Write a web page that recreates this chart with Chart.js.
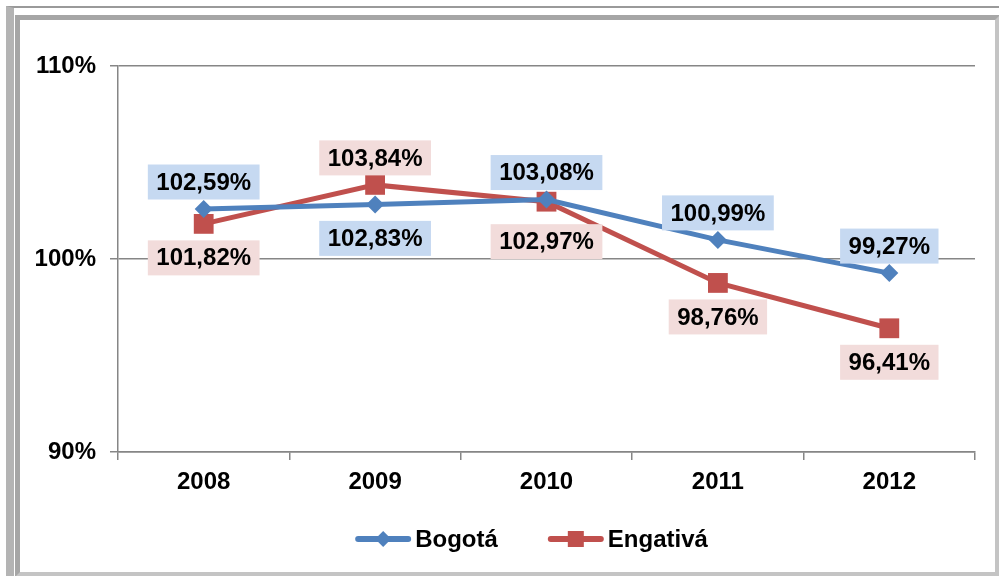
<!DOCTYPE html>
<html>
<head>
<meta charset="utf-8">
<script src="https://cdn.jsdelivr.net/npm/chart.js@4"></script>
<style>
  html, body { margin: 0; padding: 0; background: #fff; }
  #wrap { position: relative; width: 999px; height: 576px; overflow: hidden; }
  .outer { position: absolute; left: 6px; top: 6px; width: 1100px; height: 568px;
           border-top: 2px solid #9a9a9a; border-left: 8px solid #b4b4b4; border-bottom: 1px solid #d0d0d0; }
  .inner { position: absolute; left: 15px; top: 15px; width: 975px; height: 552px;
           border: 5px solid #a6a6a6; border-right-color: #c4c4c4; border-bottom-color: #c4c4c4; }
  canvas { position: absolute; left: 0; top: 0; }
</style>
</head>
<body>
<div id="wrap">
  <div class="outer"></div>
  <div class="inner"></div>
  <canvas id="chart" width="999" height="576"></canvas>
</div>
<script>
// data
const years = ['2008', '2009', '2010', '2011', '2012'];
const bogota = [102.59, 102.83, 103.08, 100.99, 99.27];
const engativa = [101.82, 103.84, 102.97, 98.76, 96.41];
const yTicks = [90, 100, 110];

const blue = '#4f81bd';
const red = '#c0504d';
const blueBox = '#c6d9f1';
const redBox = '#f2dcdb';
const font = "'Liberation Sans', Arial, sans-serif";

const fmt = v => v.toFixed(2).replace('.', ',') + '%';

// value labels in coloured boxes: higher series above its point, lower one below
const boxLabels = {
  id: 'boxLabels',
  afterDatasetsDraw(chart) {
    const ctx = chart.ctx;
    const boxes = [blueBox, redBox];
    ctx.save();
    ctx.font = 'bold 24px ' + font;
    ctx.textAlign = 'center';
    ctx.textBaseline = 'middle';
    chart.data.datasets.forEach((ds, i) => {
      const other = chart.data.datasets[1 - i].data;
      chart.getDatasetMeta(i).data.forEach((pt, j) => {
        const above = ds.data[j] >= other[j];
        // push the lower label further down when both points nearly touch
        const close = Math.abs(ds.data[j] - other[j]) < 0.5;
        const cy = pt.y + (above ? -27 : (close ? 40 : 34));
        const text = fmt(ds.data[j]);
        const w = ctx.measureText(text).width + 17;
        const h = 35;
        ctx.fillStyle = boxes[i];
        ctx.fillRect(pt.x - w / 2, cy - h / 2, w, h);
        ctx.fillStyle = '#000';
        ctx.fillText(text, pt.x, cy + 1);
      });
    });
    ctx.restore();
  }
};

// office style legend: line with marker, then the name
const lineLegend = {
  id: 'lineLegend',
  afterDraw(chart) {
    const ctx = chart.ctx;
    const y = 539;
    const gap = 50;
    ctx.save();
    ctx.font = 'bold 24px ' + font;
    ctx.textBaseline = 'middle';
    const items = chart.data.datasets.map((ds, i) => ({ ds, i, tw: ctx.measureText(ds.label).width }));
    const total = items.reduce((s, it) => s + 56 + 4 + it.tw, 0) + gap * (items.length - 1);
    let x = chart.width / 2 + 32 - total / 2;
    items.forEach(it => {
      const c = it.ds.borderColor;
      ctx.strokeStyle = c;
      ctx.fillStyle = c;
      ctx.lineWidth = 6;
      ctx.lineCap = 'round';
      ctx.beginPath(); ctx.moveTo(x + 3, y); ctx.lineTo(x + 53, y); ctx.stroke();
      const cx = x + 28;
      if (it.i === 0) {
        ctx.beginPath(); ctx.moveTo(cx, y - 8); ctx.lineTo(cx + 8, y); ctx.lineTo(cx, y + 8); ctx.lineTo(cx - 8, y); ctx.closePath(); ctx.fill();
      } else {
        ctx.fillRect(cx - 8, y - 8, 16, 16);
      }
      ctx.fillStyle = '#000';
      ctx.fillText(it.ds.label, x + 60, y + 1);
      x += 60 + it.tw + gap;
    });
    ctx.restore();
  }
};

new Chart(document.getElementById('chart'), {
  type: 'line',
  data: {
    labels: years,
    datasets: [
      {
        label: 'Bogotá',
        data: bogota,
        borderColor: blue,
        backgroundColor: blue,
        borderWidth: 5,
        pointStyle: 'rectRot',
        pointRadius: 9,
        pointBorderWidth: 0,
        tension: 0
      },
      {
        label: 'Engativá',
        data: engativa,
        borderColor: red,
        backgroundColor: red,
        borderWidth: 5,
        pointStyle: 'rect',
        pointRadius: 14,
        pointBorderWidth: 0,
        tension: 0
      }
    ]
  },
  options: {
    responsive: false,
    animation: false,
    layout: { padding: { left: 0, right: 24, top: 66, bottom: 0 } },
    scales: {
      x: {
        offset: true,
        grid: { offset: true, drawOnChartArea: false, color: '#868686', lineWidth: 1.5, tickLength: 8 },
        border: { color: '#868686', width: 1.5 },
        ticks: { color: '#000', font: { family: font, size: 24, weight: 'bold' }, padding: 8 },
        afterFit: s => { s.height = 124; }
      },
      y: {
        min: 90,
        max: 110,
        afterBuildTicks: s => { s.ticks = yTicks.map(v => ({ value: v })); },
        grid: { color: '#868686', lineWidth: 1.5, tickLength: 8 },
        border: { color: '#868686', width: 1.5 },
        ticks: { color: '#000', font: { family: font, size: 24, weight: 'bold' }, padding: 14,
                 callback: v => v + '%' },
        afterFit: s => { s.width = 118; }
      }
    },
    plugins: {
      legend: { display: false },
      tooltip: { enabled: false }
    }
  },
  plugins: [boxLabels, lineLegend]
});
</script>
</body>
</html>
